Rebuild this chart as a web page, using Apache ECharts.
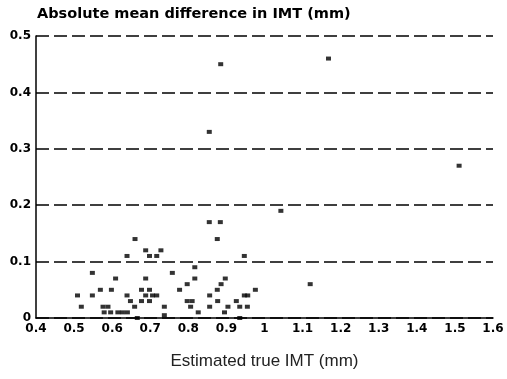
<!DOCTYPE html>
<html>
<head>
<meta charset="utf-8">
<script src="https://cdn.jsdelivr.net/npm/echarts@6/dist/echarts.min.js"></script>
<style>html,body{margin:0;padding:0;background:#fff}#c{width:507px;height:379px}</style>
</head>
<body>
<div id="c"></div>
<script>
// Estimated true IMT (mm)
const trueIMT = [
  0.509, 0.519, 0.548, 0.548, 0.569, 0.576, 0.589, 0.579, 0.596, 0.598,
  0.609, 0.615, 0.627, 0.640, 0.639, 0.639, 0.648, 0.660, 0.659, 0.666,
  0.677, 0.677, 0.688, 0.688, 0.688, 0.698, 0.717, 0.728, 0.698, 0.698,
  0.706, 0.717, 0.737, 0.737, 0.758, 0.777, 0.797, 0.797, 0.810, 0.806,
  0.817, 0.817, 0.826, 0.855, 0.884, 0.876, 0.855, 0.885, 0.856, 0.856,
  0.876, 0.877, 0.886, 0.897, 0.895, 0.904, 0.926, 0.935, 0.955, 0.947,
  0.956, 0.935, 0.947, 0.976, 1.043, 1.120, 1.168, 1.511
];
// Absolute mean difference in IMT (mm)
const absDiff = [
  0.04, 0.02, 0.08, 0.04, 0.05, 0.02, 0.02, 0.01, 0.01, 0.05,
  0.07, 0.01, 0.01, 0.01, 0.11, 0.04, 0.03, 0.14, 0.02, 0.00,
  0.05, 0.03, 0.12, 0.07, 0.04, 0.11, 0.11, 0.12, 0.05, 0.03,
  0.04, 0.04, 0.02, 0.005, 0.08, 0.05, 0.06, 0.03, 0.03, 0.02,
  0.09, 0.07, 0.01, 0.17, 0.17, 0.14, 0.33, 0.45, 0.04, 0.02,
  0.05, 0.03, 0.06, 0.07, 0.01, 0.02, 0.03, 0.02, 0.02, 0.04,
  0.04, 0.00, 0.11, 0.05, 0.19, 0.06, 0.46, 0.27
];
const xTitle = 'Estimated true IMT (mm)';
const yTitle = 'Absolute mean difference in IMT (mm)';

const points = trueIMT.map((x, i) => [x, absDiff[i]]);
const chart = echarts.init(document.getElementById('c'), null, {renderer: 'canvas'});
const labelFont = {color: '#000', fontFamily: 'DejaVu Sans, sans-serif', fontWeight: 'bold', fontSize: 12};
chart.setOption({
  animation: false,
  backgroundColor: '#fff',
  grid: {left: 36, right: 14, top: 36, bottom: 61, containLabel: false},
  graphic: [{
    type: 'text', left: 37, top: 7,
    style: {text: yTitle, fill: '#000', font: 'bold 14.5px "DejaVu Sans", sans-serif'}
  }],
  xAxis: {
    type: 'value', min: 0.4, max: 1.6, interval: 0.1,
    name: xTitle, nameLocation: 'middle', nameGap: 35,
    nameTextStyle: {color: '#222', fontFamily: 'Liberation Sans, Arial, sans-serif', fontSize: 17},
    axisLine: {show: true, lineStyle: {color: '#000', width: 1.5}},
    axisTick: {show: false},
    splitLine: {show: false},
    axisLabel: Object.assign({margin: 5, formatter: v => String(Math.round(v * 10) / 10)}, labelFont)
  },
  yAxis: {
    type: 'value', min: 0, max: 0.5, interval: 0.1,
    axisLine: {show: true, lineStyle: {color: '#000', width: 1.5}},
    axisTick: {show: false},
    splitLine: {show: true, lineStyle: {color: '#000', width: 1.5, type: [13, 5]}},
    axisLabel: Object.assign({margin: 5, formatter: v => String(Math.round(v * 10) / 10)}, labelFont)
  },
  series: [{
    type: 'scatter', data: points, symbol: 'rect', symbolSize: [5, 4],
    itemStyle: {color: '#000'}
  }]
});
</script>
</body>
</html>
